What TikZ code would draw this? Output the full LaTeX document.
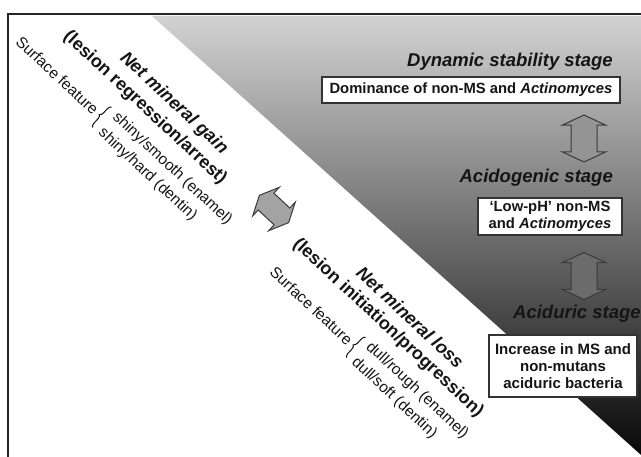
\documentclass[tikz,border=0pt]{standalone}
\usepackage{fontspec}
\setmainfont{Liberation Sans}
\usetikzlibrary{shapes.arrows,decorations.pathreplacing}

\definecolor{shadeTop}{HTML}{D2D2D2}
\definecolor{shadeMid}{HTML}{8A8A8A}
\definecolor{arrowLine}{HTML}{3A3A3A}
\definecolor{inkDark}{HTML}{151515}

\def\figWidth{641}
\def\figHeight{456}
\def\textAngle{-43}

\newcommand\bigFont{\fontsize{18}{20}\selectfont}
\newcommand\boxFont{\fontsize{14.8}{17}\selectfont}
\newcommand\smallFont{\fontsize{15.5}{17}\selectfont}

\tikzset{
  stagetitle/.style = {font=\fontsize{18.5}{20}\selectfont\bfseries\itshape, text=inkDark, inner sep=0pt},
  stagebox/.style = {draw=black!80, line width=1.2pt, fill=white,
    font=\boxFont\bfseries, text=inkDark, align=center, inner sep=0pt},
  blockarrow/.style = {double arrow, draw=arrowLine, line width=1pt,
    minimum height=47pt, minimum width=42pt, double arrow head extend=8.5pt,
    double arrow tip angle=130, inner xsep=0pt, inner ysep=12.5pt},
  headline/.style = {font=\bigFont\bfseries\itshape, text=inkDark, inner sep=0pt},
  subline/.style = {font=\bigFont\bfseries, text=inkDark, inner sep=0pt},
  featureline/.style = {font=\smallFont, text=inkDark, inner sep=0pt},
  featurebrace/.style = {decorate, decoration={brace, amplitude=4pt}, line width=1pt, inkDark},
}

\begin{document}
\begin{tikzpicture}[x=1pt, y=1pt]
  \useasboundingbox (0,0) rectangle (\figWidth,\figHeight);
  \clip (0,0) rectangle (\figWidth,\figHeight);

  %% shaded triangle
  \shade [top color=shadeTop, middle color=shadeMid, bottom color=black]
  (152,440) -- (660,440) -- (660,-16) -- cycle
  ;
  %% frame (only top and left edges are inside the page)
  \draw [line width=2pt, black!85]
  (8,-50) -- (8,442) -- (700,442)
  ;

  %% stages on the right
  \node [stagetitle, anchor=base east] (dynTitle) at (613,389) {Dynamic stability stage};
  \node [stagebox, minimum width=298pt, minimum height=26pt] (dynBox) at (471,366)
  {Dominance of non-MS and \textit{Actinomyces}};
  \node [blockarrow, fill=black!42, rotate=90] (upperArrow) at (584,317.5) {};

  \node [stagetitle, anchor=base east] (acidoTitle) at (613,273) {Acidogenic stage};
  \node [stagebox, minimum width=144pt, minimum height=37pt] (acidoBox) at (550,239.5)
  {`Low-pH' non-MS\\and \textit{Actinomyces}};
  \node [blockarrow, fill=black!58, rotate=90] (lowerArrow) at (584,180) {};

  \node [stagetitle, anchor=base west] (aciduTitle) at (513,137) {Aciduric stage};
  \node [stagebox, font=\fontsize{15}{17}\selectfont\bfseries,
    minimum width=148pt, minimum height=62pt] (aciduBox) at (563,90)
  {Increase in MS and\\non-mutans\\aciduric bacteria};

  %% balance arrow between gain and loss
  \node [blockarrow, fill=black!36, rotate=\textAngle, minimum height=40pt,
    minimum width=38pt, double arrow head extend=8pt, inner ysep=11pt]
  (balanceArrow) at (274,247) {};

  %% net mineral gain
  \begin{scope}[shift={(145,348)}, rotate=\textAngle, transform shape]
    \node [headline] (gainHead) at (18,23) {Net mineral gain};
    \node [subline] (gainSub) at (0,0) {(lesion regression/arrest)};
    \node [featureline, anchor=east] (gainSurface) at (-33,-36) {Surface feature};
    \draw [featurebrace] (-25,-50) -- (-25,-22);
    \node [featureline, anchor=west] (gainEnamel) at (-17,-26) {shiny/smooth (enamel)};
    \node [featureline, anchor=west] (gainDentin) at (-17,-47) {shiny/hard (dentin)};
  \end{scope}

  %% net mineral loss
  \begin{scope}[shift={(388,128)}, rotate=\textAngle, transform shape]
    \node [headline] (lossHead) at (9,23) {Net mineral loss};
    \node [subline] (lossSub) at (0,0) {(lesion initiation/progression)};
    \node [featureline, anchor=east] (lossSurface) at (-18,-36) {Surface feature};
    \draw [featurebrace] (-10,-50) -- (-10,-22);
    \node [featureline, anchor=west] (lossEnamel) at (-3,-26) {dull/rough (enamel)};
    \node [featureline, anchor=west] (lossDentin) at (-3,-47) {dull/soft (dentin)};
  \end{scope}
\end{tikzpicture}
\end{document}
